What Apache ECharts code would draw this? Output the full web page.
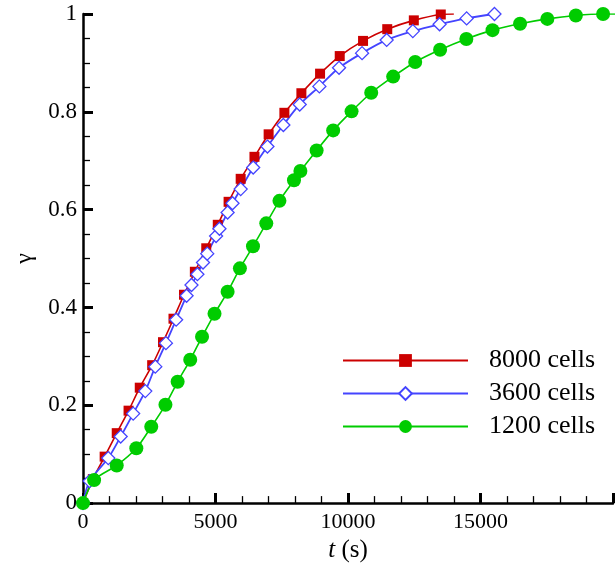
<!DOCTYPE html>
<html>
<head>
<meta charset="utf-8">
<script src="https://cdn.jsdelivr.net/npm/echarts@6/dist/echarts.min.js"></script>
<style>html,body{margin:0;padding:0;background:#fff}#c{width:616px;height:568px}</style>
</head>
<body>
<div id="c"></div>
<script>
// ---- data ----
const names = ['8000 cells', '3600 cells', '1200 cells'];
const t8000 = [0, 371, 817, 1273, 1719, 2142, 2610, 3018, 3415, 3812, 4221, 4651, 5086, 5494, 5950, 6470, 7005, 7599, 8241, 8946, 9688, 10568, 11481, 12484, 13501, 13994];
const g8000 = [0, 0.049, 0.095, 0.143, 0.189, 0.236, 0.282, 0.329, 0.377, 0.426, 0.473, 0.521, 0.569, 0.616, 0.663, 0.708, 0.754, 0.798, 0.838, 0.878, 0.914, 0.945, 0.969, 0.987, 0.999, 1.0];
const t3600 = [0, 249, 954, 1422, 1893, 2350, 2728, 3129, 3515, 3909, 4094, 4317, 4529, 4688, 5022, 5149, 5457, 5642, 5950, 6422, 6960, 7561, 8178, 8920, 9662, 10531, 11459, 12446, 13456, 14477, 15527];
const g3600 = [0, 0.045, 0.092, 0.136, 0.183, 0.229, 0.279, 0.327, 0.375, 0.424, 0.446, 0.468, 0.492, 0.510, 0.546, 0.561, 0.594, 0.613, 0.642, 0.686, 0.729, 0.773, 0.815, 0.852, 0.890, 0.920, 0.947, 0.965, 0.979, 0.991, 1.0];
const t1200 = [0, 419, 1273, 2012, 2576, 3111, 3571, 4046, 4492, 4963, 5457, 5921, 6415, 6916, 7413, 7962, 8204, 8816, 9440, 10134, 10876, 11704, 12536, 13475, 14466, 15454, 16493, 17521, 18598, 19626, 20700];
const g1200 = [0, 0.047, 0.077, 0.112, 0.156, 0.201, 0.248, 0.293, 0.340, 0.387, 0.432, 0.480, 0.525, 0.572, 0.618, 0.660, 0.679, 0.721, 0.762, 0.801, 0.839, 0.872, 0.902, 0.927, 0.949, 0.967, 0.980, 0.990, 0.997, 1.0, 1.0];
const xTickHidden = [20000];

function pts(t, g, lastNoSymbol) {
  return t.map((x, i) => {
    if (lastNoSymbol && i === t.length - 1) return { value: [x, g[i]], symbol: 'none' };
    return [x, g[i]];
  });
}

const FONT = '"Liberation Serif", "Times New Roman", serif';
const chart = echarts.init(document.getElementById('c'), null, { renderer: 'canvas' });
chart.setOption({
  animation: false,
  backgroundColor: '#fff',
  textStyle: { fontFamily: FONT, color: '#000' },
  grid: { left: 83, right: -6, top: 14, bottom: 63, containLabel: false },
  xAxis: {
    type: 'value', min: 0, max: 20000, interval: 5000,
    name: '{i|t} (s)', nameLocation: 'middle', nameGap: 34,
    nameTextStyle: { fontFamily: FONT, fontSize: 25, color: '#000', rich: { i: { fontFamily: FONT, fontSize: 25, fontStyle: 'italic', color: '#000' } } },
    axisLine: { show: true, lineStyle: { color: '#000', width: 2.5 } },
    axisTick: { show: true, inside: true, length: 10, lineStyle: { color: '#000', width: 3 } },
    minorTick: { show: true, splitNumber: 5, length: 7, lineStyle: { color: '#000', width: 1.3 } },
    splitLine: { show: false },
    axisLabel: { fontFamily: FONT, fontSize: 22, color: '#000', margin: 8,
      formatter: v => xTickHidden.includes(v) ? '' : String(v) }
  },
  yAxis: {
    type: 'value', min: 0, max: 1, interval: 0.2,
    name: 'γ', nameLocation: 'middle', nameGap: 46,
    nameTextStyle: { fontFamily: FONT, fontSize: 24, color: '#000' },
    axisLine: { show: true, lineStyle: { color: '#000', width: 2.5 } },
    axisTick: { show: true, inside: true, length: 10, lineStyle: { color: '#000', width: 3 } },
    minorTick: { show: true, splitNumber: 4, length: 7, lineStyle: { color: '#000', width: 1.3 } },
    splitLine: { show: false },
    axisLabel: { fontFamily: FONT, fontSize: 23, color: '#000', margin: 6 }
  },
  legend: {
    orient: 'vertical', left: 342, top: 347, itemWidth: 125, itemHeight: 16, itemGap: 6,
    padding: 0,
    textStyle: { fontFamily: FONT, fontSize: 26, color: '#000', lineHeight: 27, padding: [0, 0, 0, 16] },
    data: names
  },
  series: [
    { name: names[0], type: 'line', data: pts(t8000, g8000, true), smooth: 0.3,
      symbol: 'rect', symbolSize: 10, showAllSymbol: true, clip: true,
      lineStyle: { color: '#cc0000', width: 1.6 }, itemStyle: { color: '#cc0000' } },
    { name: names[1], type: 'line', data: pts(t3600, g3600, false), smooth: 0.3,
      symbol: 'diamond', symbolSize: 13, showAllSymbol: true, clip: true,
      lineStyle: { color: '#4444ff', width: 1.8 },
      itemStyle: { color: '#ffffff', borderColor: '#4444ff', borderWidth: 1.3 } },
    { name: names[2], type: 'line', data: pts(t1200, g1200, false), smooth: 0.3,
      symbol: 'circle', symbolSize: 14, showAllSymbol: true, clip: true,
      lineStyle: { color: '#00cc00', width: 1.6 }, itemStyle: { color: '#00cc00' } }
  ]
});
</script>
</body>
</html>
